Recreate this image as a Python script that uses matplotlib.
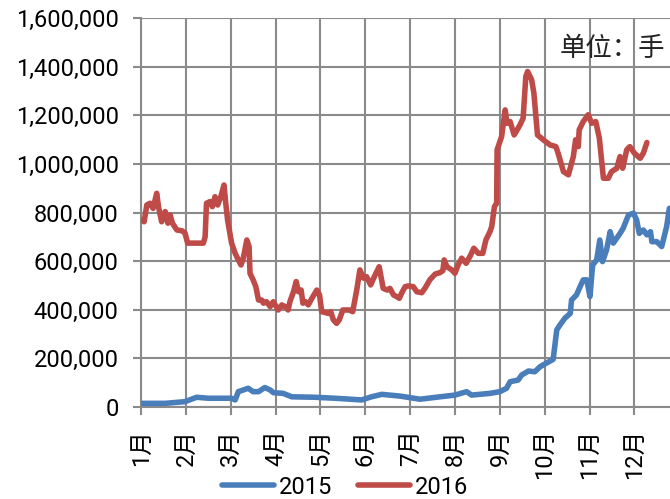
import matplotlib
matplotlib.use("Agg")
import matplotlib.pyplot as plt
from matplotlib.ticker import FuncFormatter

# x positions are in months since 1 January (0 = 1月, 1 = 2月, ...)
months = ["1月", "2月", "3月", "4月", "5月", "6月", "7月", "8月", "9月", "10月", "11月", "12月"]

x2015 = [0.02, 0.54, 0.98, 1.24, 1.50, 2.02, 2.10, 2.17, 2.39, 2.50, 2.62, 2.76, 2.88, 2.95,
         3.17, 3.36, 3.88, 4.33, 4.92, 5.14, 5.37, 5.77, 6.22, 6.67, 7.00, 7.26, 7.37, 7.78,
         8.00, 8.15, 8.23, 8.41, 8.49, 8.64, 8.78, 8.90, 9.19, 9.27, 9.34, 9.45, 9.57, 9.60,
         9.71, 9.79, 9.86, 9.94, 10.01, 10.07, 10.16, 10.23, 10.29, 10.38, 10.46, 10.53,
         10.68, 10.75, 10.87, 10.98, 11.05, 11.11, 11.20, 11.28, 11.36, 11.39, 11.50, 11.61,
         11.72, 11.78]
y2015 = [15000, 15000, 22000, 40000, 36000, 36000, 29000, 63000, 77000, 63000, 63000, 80000,
         70000, 59000, 56000, 42000, 40000, 36000, 29000, 42000, 52000, 45000, 32000, 42000,
         49000, 63000, 49000, 56000, 63000, 77000, 104000, 111000, 132000, 148000, 145000,
         166000, 196000, 317000, 337000, 365000, 385000, 440000, 461000, 495000, 523000,
         523000, 454000, 584000, 605000, 687000, 598000, 646000, 721000, 674000, 714000,
         735000, 790000, 797000, 770000, 714000, 728000, 708000, 721000, 680000, 680000,
         660000, 742000, 817000]

x2016 = [0.02, 0.07, 0.13, 0.20, 0.27, 0.35, 0.39, 0.46, 0.54, 0.60, 0.65, 0.70, 0.80, 0.91,
         0.98, 1.04, 1.39, 1.43, 1.46, 1.54, 1.59, 1.65, 1.71, 1.78, 1.85, 1.89, 1.93, 2.02,
         2.10, 2.17, 2.23, 2.28, 2.36, 2.41, 2.43, 2.50, 2.56, 2.62, 2.69, 2.73, 2.80, 2.88,
         2.95, 3.06, 3.14, 3.21, 3.28, 3.32, 3.40, 3.46, 3.51, 3.57, 3.61, 3.67, 3.73, 3.81,
         3.92, 3.98, 4.03, 4.18, 4.23, 4.29, 4.36, 4.42, 4.50, 4.64, 4.72, 4.81, 4.88, 4.96,
         5.03, 5.12, 5.22, 5.31, 5.40, 5.49, 5.55, 5.63, 5.70, 5.76, 5.81, 5.89, 5.96, 6.07,
         6.15, 6.26, 6.33, 6.44, 6.56, 6.67, 6.73, 6.76, 6.82, 6.93, 7.00, 7.07, 7.15, 7.25,
         7.35, 7.42, 7.52, 7.62, 7.69, 7.78, 7.82, 7.88, 7.93, 7.94, 8.04, 8.12, 8.16, 8.23,
         8.32, 8.45, 8.52, 8.58, 8.62, 8.71, 8.76, 8.84, 8.97, 9.12, 9.25, 9.30, 9.42, 9.53,
         9.64, 9.69, 9.75, 9.77, 9.86, 9.97, 10.05, 10.14, 10.22, 10.31, 10.42, 10.49, 10.61,
         10.68, 10.74, 10.83, 10.90, 11.00, 11.13, 11.20, 11.28]
y2016 = [769000, 762000, 831000, 838000, 817000, 879000, 824000, 762000, 804000, 756000,
         790000, 756000, 728000, 725000, 716000, 674000, 674000, 700000, 838000, 845000,
         824000, 865000, 831000, 865000, 913000, 838000, 770000, 674000, 632000, 605000,
         584000, 612000, 687000, 660000, 550000, 523000, 495000, 440000, 440000, 427000,
         433000, 413000, 433000, 399000, 420000, 413000, 399000, 433000, 474000, 516000,
         474000, 481000, 427000, 433000, 420000, 447000, 481000, 461000, 392000, 385000,
         392000, 358000, 344000, 358000, 399000, 399000, 392000, 481000, 564000, 530000,
         536000, 502000, 543000, 577000, 488000, 481000, 488000, 461000, 454000, 447000,
         468000, 495000, 498000, 495000, 474000, 470000, 488000, 523000, 547000, 553000,
         561000, 605000, 577000, 564000, 550000, 584000, 612000, 591000, 625000, 653000,
         632000, 632000, 687000, 721000, 742000, 824000, 838000, 1058000, 1112000, 1222000,
         1167000, 1174000, 1119000, 1160000, 1188000, 1359000, 1380000, 1346000, 1291000,
         1119000, 1099000, 1078000, 1071000, 1044000, 968000, 955000, 1030000, 1099000,
         1071000, 1140000, 1174000, 1202000, 1167000, 1174000, 1105000, 941000, 941000,
         968000, 982000, 1030000, 982000, 1058000, 1071000, 1044000, 1023000, 1044000,
         1088000]

yticks = [0, 200000, 400000, 600000, 800000, 1000000, 1200000, 1400000, 1600000]

FONT = ["Roboto", "Noto Sans CJK SC", "DejaVu Sans"]
plt.rcParams["font.family"] = FONT

fig = plt.figure(figsize=(6.70, 4.99), dpi=100)
ax = fig.add_axes([141 / 670, 1 - 407 / 499, 1 - 141 / 670, (407 - 18) / 499])

blue = "#4A7EBB"
red = "#BE4B48"
ax.plot(x2015, y2015, color=blue, lw=4.0, solid_joinstyle="round", solid_capstyle="round",
        label="2015", zorder=3)
ax.plot(x2016, y2016, color=red, lw=4.0, solid_joinstyle="round", solid_capstyle="round",
        label="2016", zorder=3)

grid_c = "#8A8A8A"
ax.set_xlim(0, (670 - 141) / 44.85)
ax.set_ylim(0, 1600000)
ax.set_yticks(yticks)
ax.yaxis.set_major_formatter(FuncFormatter(lambda v, p: f"{int(v):,}"))
ax.set_xticks(range(12))
ax.set_xticklabels(months, rotation=90)
ax.grid(True, color=grid_c, lw=1.5, zorder=0)
for s in ["top", "right"]:
    ax.spines[s].set_visible(False)
for s in ["left", "bottom"]:
    ax.spines[s].set_color(grid_c)
    ax.spines[s].set_linewidth(1.5)
ax.tick_params(axis="both", colors=grid_c, width=1.5, length=6, labelsize=17,
               labelcolor="black")
ax.tick_params(axis="y", pad=10)
ax.tick_params(axis="x", pad=10)

fig.text(612 / 670, 1 - 48 / 499, "单位：手", ha="center", va="center",
         fontsize=19, family=["Noto Sans CJK SC"], color="#222222")

fig.legend(loc="center", bbox_to_anchor=(345 / 670, 1 - 487 / 499), ncol=2, frameon=False,
           fontsize=17, handlelength=2.2, handletextpad=0.2, columnspacing=1.1)

fig.savefig("out.png", dpi=100)
